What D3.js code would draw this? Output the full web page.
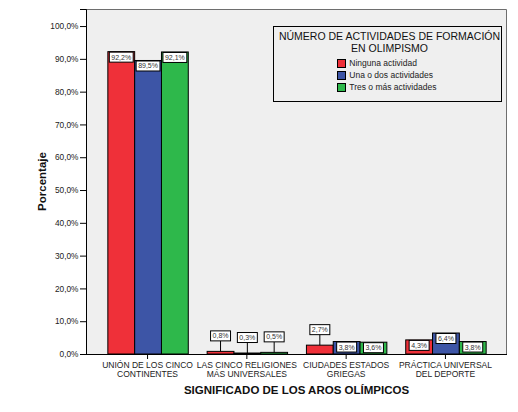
<!DOCTYPE html>
<html>
<head>
<meta charset="utf-8">
<script src="https://cdn.jsdelivr.net/npm/d3@7"></script>
<style>
  html, body { margin: 0; padding: 0; background: #ffffff; }
  svg { display: block; font-family: "Liberation Sans", Arial, sans-serif; }
</style>
</head>
<body>
<svg id="chart" width="518" height="412"></svg>
<script>
// Significado de los aros olímpicos según número de actividades de formación
const categories = [
  ["UNIÓN DE LOS CINCO", "CONTINENTES"],
  ["LAS CINCO RELIGIONES", "MÁS UNIVERSALES"],
  ["CIUDADES ESTADOS", "GRIEGAS"],
  ["PRÁCTICA UNIVERSAL", "DEL DEPORTE"]
];
const seriesNames = ["Ninguna actividad", "Una o dos actividades", "Tres o más actividades"];
const ninguna  = [92.2, 0.8, 2.7, 4.3];
const unaODos  = [89.5, 0.3, 3.8, 6.4];
const tresOMas = [92.1, 0.5, 3.6, 3.8];
const yTicks = [0, 10, 20, 30, 40, 50, 60, 70, 80, 90, 100];
const legendTitle = ["NÚMERO DE ACTIVIDADES DE FORMACIÓN", "EN OLIMPISMO"];
const xTitle = "SIGNIFICADO DE LOS AROS OLÍMPICOS";
const yTitle = "Porcentaje";

const seriesValues = [ninguna, unaODos, tresOMas];
const colors = ["#ef3039", "#3d55a6", "#2eb84b"];

const svg = d3.select("#chart");
const plot = { left: 86, right: 507, top: 9, bottom: 354 };

const fmt = v => v.toFixed(1).replace(".", ",") + "%";

const x = d3.scaleBand()
  .domain(d3.range(categories.length))
  .range([plot.left, plot.right])
  .paddingInner(0.19)
  .paddingOuter(0.215);

const xs = d3.scaleBand()
  .domain(d3.range(seriesNames.length))
  .range([0, x.bandwidth()]);

const y = d3.scaleLinear()
  .domain([0, 105.2])
  .range([plot.bottom, plot.top]);

// plot background and frame
svg.append("rect")
  .attr("x", plot.left).attr("y", plot.top)
  .attr("width", plot.right - plot.left).attr("height", plot.bottom - plot.top)
  .attr("fill", "#efefef");
svg.append("path")
  .attr("d", `M${plot.left},${plot.top + 0.5}H${plot.right - 0.5}V${plot.bottom}`)
  .attr("fill", "none").attr("stroke", "#6e6e6e").attr("stroke-width", 1);

// bars
const groups = svg.append("g").selectAll("g")
  .data(categories.map((c, i) => i))
  .join("g")
  .attr("transform", i => `translate(${x(i)},0)`);

const bars = [];
categories.forEach((c, i) => {
  seriesValues.forEach((vals, s) => {
    bars.push({ cat: i, s, v: vals[i] });
  });
});

const barG = svg.append("g");
barG.selectAll("rect")
  .data(bars)
  .join("rect")
  .attr("x", d => x(d.cat) + xs(d.s) + 0.5)
  .attr("y", d => y(d.v))
  .attr("width", xs.bandwidth())
  .attr("height", d => plot.bottom - y(d.v))
  .attr("fill", d => colors[d.s])
  .attr("stroke", "#000")
  .attr("stroke-width", 1);

// axes
const yAxis = d3.axisLeft(y)
  .tickValues(yTicks)
  .tickFormat(fmt)
  .tickSize(6)
  .tickPadding(1.5);
const yg = svg.append("g")
  .attr("transform", `translate(${plot.left},0)`)
  .call(yAxis);
yg.select(".domain").attr("stroke", "#000");
yg.selectAll(".tick line").attr("stroke", "#000");
yg.selectAll(".tick text")
  .attr("font-size", "8.3px")
  .attr("font-family", "Liberation Sans, Arial, sans-serif")
  .attr("fill", "#222");

const xAxis = d3.axisBottom(x).tickSize(5).tickFormat("");
const xg = svg.append("g")
  .attr("transform", `translate(0,${plot.bottom})`)
  .call(xAxis);
xg.select(".domain").attr("stroke", "#000").attr("d", `M${plot.left},0.5H${plot.right}`);
xg.selectAll(".tick line").attr("stroke", "#000");

// category labels
const catLabels = svg.append("g")
  .attr("font-size", "8.5px")
  .attr("fill", "#222")
  .attr("text-anchor", "middle");
categories.forEach((lines, i) => {
  lines.forEach((t, k) => {
    catLabels.append("text")
      .attr("x", x(i) + x.bandwidth() / 2)
      .attr("y", 367.5 + k * 9.3)
      .text(t);
  });
});

// axis titles
svg.append("text")
  .attr("x", (plot.left + plot.right) / 2)
  .attr("y", 394)
  .attr("text-anchor", "middle")
  .attr("font-size", "11.5px")
  .attr("font-weight", "bold")
  .attr("fill", "#111")
  .text(xTitle);

svg.append("text")
  .attr("transform", `translate(46,${(plot.top + plot.bottom) / 2}) rotate(-90)`)
  .attr("text-anchor", "middle")
  .attr("font-size", "11.5px")
  .attr("font-weight", "bold")
  .attr("fill", "#111")
  .text(yTitle);

// value labels
const boxH = 10;
const labelG = svg.append("g");
bars.forEach(d => {
  const cx = x(d.cat) + xs(d.s) + xs.bandwidth() / 2 + 0.5;
  const top = y(d.v);
  const barH = plot.bottom - top;
  const g = labelG.append("g");
  const rect = g.append("rect");
  const txt = g.append("text")
    .attr("font-size", "7px")
    .attr("fill", "#333")
    .attr("text-anchor", "middle")
    .text(fmt(d.v));
  const tw = txt.node().getComputedTextLength();
  const bw = tw + 4;
  let by;
  if (barH >= boxH) {
    by = top + 0.5;
  } else {
    by = top - boxH - 10.5;
    g.insert("line", "rect")
      .attr("x1", cx).attr("x2", cx)
      .attr("y1", by + boxH).attr("y2", top)
      .attr("stroke", "#000").attr("stroke-width", 1);
  }
  rect.attr("x", cx - bw / 2).attr("y", by)
    .attr("width", bw).attr("height", boxH)
    .attr("fill", "#fff").attr("stroke", "#000").attr("stroke-width", 1);
  txt.attr("x", cx).attr("y", by + boxH / 2 + 2.5);
});

// legend
const lg = svg.append("g");
lg.append("rect")
  .attr("x", 273.5).attr("y", 26.5)
  .attr("width", 228).attr("height", 75)
  .attr("fill", "#efefef").attr("stroke", "#000").attr("stroke-width", 1);
legendTitle.forEach((t, k) => {
  lg.append("text")
    .attr("x", 389.5)
    .attr("y", 39.7 + k * 12.3)
    .attr("text-anchor", "middle")
    .attr("font-size", "10.5px")
    .attr("fill", "#111")
    .text(t);
});
seriesNames.forEach((name, s) => {
  lg.append("rect")
    .attr("x", 337.5).attr("y", 59.5 + s * 12)
    .attr("width", 8).attr("height", 8)
    .attr("fill", colors[s]).attr("stroke", "#000").attr("stroke-width", 1);
  lg.append("text")
    .attr("x", 349.3).attr("y", 66.3 + s * 12)
    .attr("font-size", "8.5px")
    .attr("fill", "#222")
    .text(name);
});
</script>
</body>
</html>
